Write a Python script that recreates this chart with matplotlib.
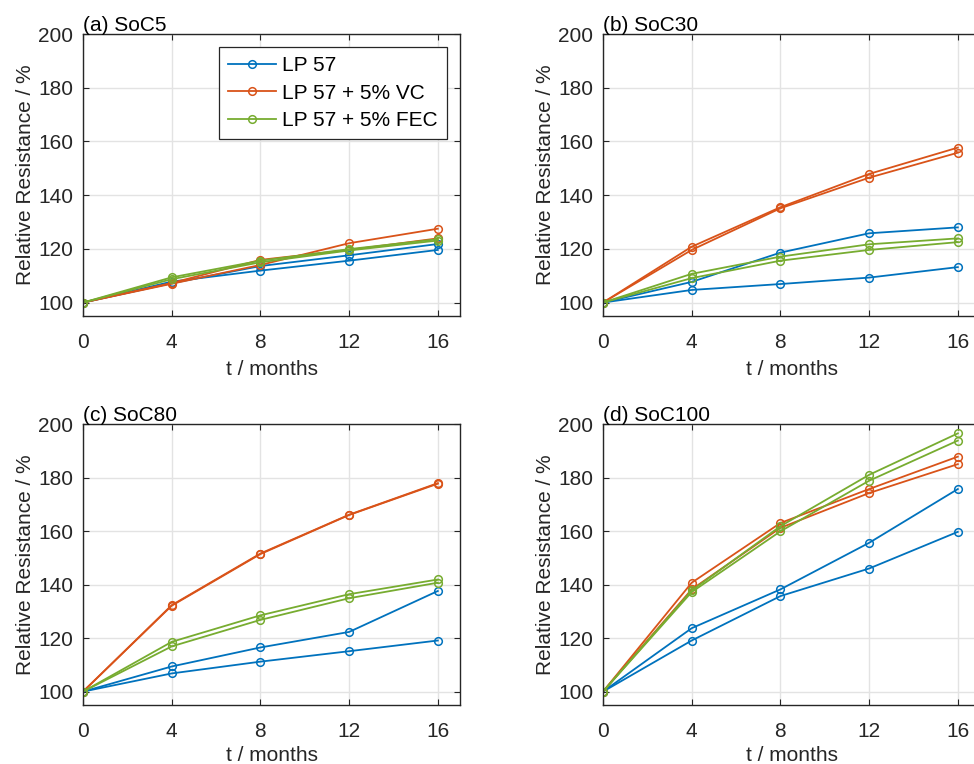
"""Relative resistance over storage time for four states of charge."""
import matplotlib.pyplot as plt

plt.rcParams['font.family'] = ['Liberation Sans', 'DejaVu Sans']

months = [0, 4, 8, 12, 16]
labels = ["LP 57", "LP 57 + 5% VC", "LP 57 + 5% FEC"]
colors = ["#0072BD", "#D95319", "#77AC30"]

# two cells per electrolyte in each panel
soc5_lp57 = [[100, 107.8, 111.9, 115.6, 119.6], [100, 107.2, 113.6, 117.6, 121.8]]
soc5_vc = [[100, 107.0, 114.0, 122.1, 127.5], [100, 107.3, 115.9, 119.6, 123.9]]
soc5_fec = [[100, 109.4, 115.6, 119.9, 123.6], [100, 108.7, 115.0, 119.4, 123.1]]

soc30_lp57 = [[100, 107.7, 118.6, 125.8, 128.0], [100, 104.7, 106.9, 109.3, 113.2]]
soc30_vc = [[100, 120.8, 135.5, 147.9, 157.7], [100, 119.6, 135.1, 146.5, 155.8]]
soc30_fec = [[100, 110.7, 117.1, 121.7, 123.9], [100, 109.1, 115.6, 119.6, 122.5]]

soc80_lp57 = [[100, 109.4, 116.5, 122.3, 137.6], [100, 106.8, 111.2, 115.1, 119.1]]
soc80_vc = [[100, 132.3, 151.6, 166.1, 177.9], [100, 132.1, 151.4, 166.0, 177.7]]
soc80_fec = [[100, 118.6, 128.5, 136.4, 141.9], [100, 116.9, 126.8, 134.9, 140.7]]

soc100_lp57 = [[100, 123.7, 138.2, 155.6, 175.7], [100, 119.1, 135.7, 146.0, 159.7]]
soc100_vc = [[100, 140.7, 163.0, 175.7, 187.8], [100, 138.2, 161.2, 174.2, 185.0]]
soc100_fec = [[100, 137.8, 161.8, 181.0, 196.5], [100, 137.2, 159.9, 178.8, 193.8]]

panels = [
    ("(a) SoC5", [soc5_lp57, soc5_vc, soc5_fec]),
    ("(b) SoC30", [soc30_lp57, soc30_vc, soc30_fec]),
    ("(c) SoC80", [soc80_lp57, soc80_vc, soc80_fec]),
    ("(d) SoC100", [soc100_lp57, soc100_vc, soc100_fec]),
]

W, H = 974, 764
fig = plt.figure(figsize=(W / 100, H / 100), dpi=100)

# axes boxes in pixels: left, top, right, bottom
boxes = [(83, 34, 460, 316), (603, 34, 980, 316),
         (83, 424, 460, 705), (603, 424, 980, 705)]

for i, (title, groups) in enumerate(panels):
    l, t, r, b = boxes[i]
    ax = fig.add_axes([l / W, 1 - b / H, (r - l) / W, (b - t) / H])
    for j, cells in enumerate(groups):
        for k, vals in enumerate(cells):
            ax.plot(months, vals, color=colors[j], marker="o", markersize=5.5,
                    markerfacecolor="none", markeredgewidth=1.1, linewidth=1.3,
                    label=labels[j] if k == 0 else None)
    ax.set_xlim(0, 17)
    ax.set_ylim(95, 200)
    ax.set_xticks(months)
    ax.set_yticks([100, 120, 140, 160, 180, 200])
    ax.grid(True, color="#e3e3e3", linewidth=1.0)
    ax.set_axisbelow(True)
    ax.tick_params(direction="in", top=True, right=True, labelsize=15,
                   colors="#262626", length=4)
    ax.tick_params(axis="x", pad=12)
    ax.tick_params(axis="y", pad=7)
    for s in ax.spines.values():
        s.set_color("#262626")
        s.set_linewidth(1.0)
    ax.set_xlabel("t / months", fontsize=15, color="#262626",
                  labelpad=6 if i < 2 else 4)
    ax.set_ylabel("Relative Resistance / %", fontsize=15, color="#262626", labelpad=2.5)
    ax.set_title(title, loc="left", fontsize=15, color="black", pad=2)
    if i == 0:
        leg = ax.legend(loc="upper right", bbox_to_anchor=(0.966, 0.954),
                        borderaxespad=0, fontsize=15, fancybox=False,
                        framealpha=1, edgecolor="#262626", handlelength=2.3,
                        handletextpad=0.3, labelspacing=0.4, borderpad=0.45)
        leg.get_frame().set_linewidth(0.9)

plt.savefig("out.png", dpi=100)
plt.close(fig)
